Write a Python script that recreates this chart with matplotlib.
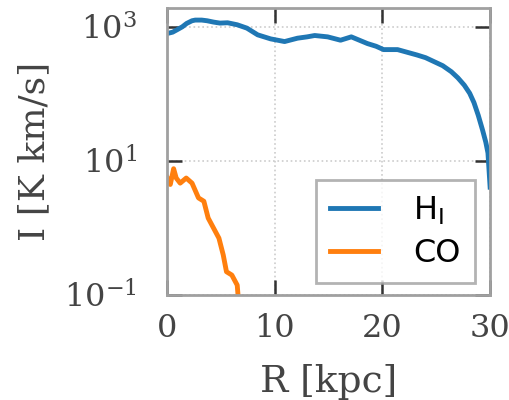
import numpy as np
import matplotlib
matplotlib.use('Agg')
import matplotlib.pyplot as plt

# radial profiles of integrated intensity
r_hi = [0.0, 0.5, 0.9, 1.4, 1.8, 2.3, 2.6, 3.2, 3.7, 4.3, 4.9, 5.6, 6.5, 7.4,
        8.4, 9.6, 10.9, 12.1, 13.0, 13.7, 14.9, 16.1, 17.1, 18.0, 18.6, 19.4,
        20.1, 21.4, 22.3, 23.2, 24.0, 24.8, 25.6, 26.4, 27.0, 27.6, 28.1, 28.5,
        28.9, 29.3, 29.6, 29.8, 30.0]
log_i_hi = [2.90, 2.92, 2.955, 3.00, 3.05, 3.09, 3.10, 3.10, 3.09, 3.07, 3.055,
            3.06, 3.03, 2.98, 2.88, 2.82, 2.78, 2.83, 2.85, 2.87, 2.85, 2.80,
            2.85, 2.79, 2.75, 2.71, 2.66, 2.66, 2.62, 2.58, 2.54, 2.48, 2.42,
            2.33, 2.24, 2.13, 2.01, 1.87, 1.68, 1.46, 1.28, 1.12, 0.61]
r_co = [0.0, 0.28, 0.59, 0.83, 1.2, 1.76, 2.3, 2.9, 3.4, 3.8, 4.3, 4.8, 5.2,
        5.5, 6.0, 6.5, 6.6]
log_i_co = [0.75, 0.65, 0.885, 0.746, 0.67, 0.746, 0.67, 0.45, 0.40, 0.15, 0.0,
            -0.15, -0.40, -0.65, -0.70, -0.85, -1.05]

i_hi = 10 ** np.array(log_i_hi)
i_co = 10 ** np.array(log_i_co)

plt.rcParams['font.family'] = 'DejaVu Serif'
plt.rcParams['mathtext.fontset'] = 'dejavuserif'

fig = plt.figure(figsize=(5.1, 4.0), dpi=100)
ax = fig.add_axes([0.328, 0.262, 0.633, 0.718])

ax.plot(r_hi, i_hi, color='#1f77b4', lw=3.5, label=r'H$_\mathregular{I}$')
ax.plot(r_co, i_co, color='#ff7f0e', lw=3.5, label='CO')

ax.set_yscale('log')
ax.set_xlim(0, 30)
ax.set_ylim(0.1, 10 ** 3.28)
ax.set_xticks([0, 10, 20, 30])
ax.set_yticks([0.1, 10, 1000])
ax.minorticks_off()

ax.grid(True, color='#cccccc', linestyle=':', lw=1.2)
for s in ax.spines.values():
    s.set_color('#a0a0a0')
    s.set_linewidth(2)
ax.tick_params(direction='in', length=11, width=1.8, color='#333333',
               top=True, right=True, labelsize=23, labelcolor='#444444')
ax.tick_params(axis='x', pad=13)
ax.tick_params(axis='y', pad=22)

ax.set_xlabel('R [kpc]', fontsize=27, color='#444444', labelpad=14)
ax.set_ylabel('I [K km/s]', fontsize=26, color='#444444', labelpad=9)

leg = ax.legend(loc='lower right', frameon=True, fancybox=False,
                handlelength=1.5, borderpad=0.45, labelspacing=0.35,
                handletextpad=1.1, borderaxespad=0,
                bbox_to_anchor=(0.953, 0.042),
                prop={'family': 'DejaVu Sans', 'size': 23})
leg.get_frame().set_edgecolor('#a0a0a0')
leg.get_frame().set_linewidth(2)

fig.savefig('out.png', dpi=100)
